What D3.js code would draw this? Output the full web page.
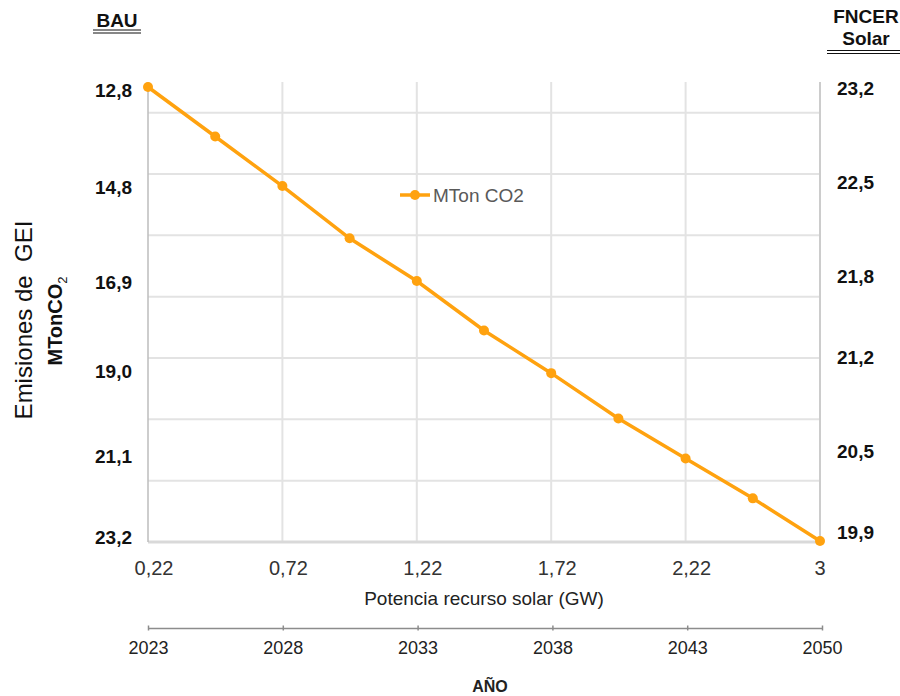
<!DOCTYPE html>
<html>
<head>
<meta charset="utf-8">
<script src="https://d3js.org/d3.v7.min.js"></script>
<style>
  body { margin: 0; background: white; }
  svg { font-family: "Liberation Sans", Arial, sans-serif; }
  .grid line { stroke: #e3e3e3; stroke-width: 2; }
  .yearAxis .domain, .yearAxis line { stroke: #8c8c8c; stroke-width: 1.5; }
  .yearAxis text { font-size: 18px; fill: #222; }
</style>
</head>
<body>
<svg id="chart" width="900" height="696"></svg>
<script>
// emisiones (MTon CO2), una por punto
const emisiones = [23.20, 22.84, 22.48, 22.10, 21.79, 21.43, 21.12, 20.79, 20.50, 20.21, 19.90];
const potenciaTicks = ["0,22", "0,72", "1,22", "1,72", "2,22", "3"];
const years = ["2023", "2028", "2033", "2038", "2043", "2050"];
const bauTicks = [12.8, 14.8, 16.9, 19.0, 21.1, 23.2];
const fncerTicks = [23.2, 22.5, 21.8, 21.2, 20.5, 19.9];

const svg = d3.select("svg#chart");
const plotL = 148, plotR = 820, plotT = 82, plotB = 542;
const orange = "#ffa20f";
const fmt = v => d3.format(".1f")(v).replace(".", ",");

const x = d3.scalePoint().domain(d3.range(emisiones.length)).range([plotL, plotR]);
const y = d3.scaleLinear().domain([19.9, 23.2]).range([541, 87]);
// etiquetas de los ejes laterales (colocadas a mano en el original)
const yBau = d3.scaleSqrt().domain([12.8, 23.2]).range([90, 537]);
const yFncer = d3.scaleLinear().domain([23.2, 19.9]).range([88, 532]);
const gridY = d3.scaleLinear().domain([0, 7.5]).range([plotB, plotT]);

// grid
const grid = svg.append("g").attr("class", "grid");
grid.selectAll("line.h").data(d3.range(1, 8))
  .join("line").attr("class", "h")
  .attr("x1", plotL).attr("x2", plotR)
  .attr("y1", d => gridY(d)).attr("y2", d => gridY(d));
grid.selectAll("line.v").data(d3.range(2, emisiones.length - 1, 2))
  .join("line").attr("class", "v")
  .attr("x1", d => x(d)).attr("x2", d => x(d))
  .attr("y1", plotT).attr("y2", plotB);

// plot frame
svg.append("line").attr("x1", plotL).attr("x2", plotR).attr("y1", plotB).attr("y2", plotB)
   .attr("stroke", "#d9d9d9").attr("stroke-width", 3);
svg.append("line").attr("x1", plotL).attr("x2", plotL).attr("y1", plotT).attr("y2", plotB)
   .attr("stroke", "#bdbdbd").attr("stroke-width", 1.5);
svg.append("line").attr("x1", plotR).attr("x2", plotR).attr("y1", plotT).attr("y2", plotB)
   .attr("stroke", "#cccccc").attr("stroke-width", 2);

// line + markers
svg.append("path").datum(emisiones)
   .attr("fill", "none").attr("stroke", orange).attr("stroke-width", 3.5)
   .attr("d", d3.line().x((d, i) => x(i)).y(d => y(d)));
svg.selectAll("circle.pt").data(emisiones)
   .join("circle").attr("class", "pt")
   .attr("cx", (d, i) => x(i)).attr("cy", d => y(d))
   .attr("r", 5).attr("fill", orange);

// left labels (BAU)
svg.selectAll("text.bau").data(bauTicks)
   .join("text").attr("class", "bau")
   .attr("x", 132).attr("y", d => yBau(d)).attr("dy", "0.35em")
   .attr("text-anchor", "end").attr("font-size", 19).attr("font-weight", "bold").attr("fill", "#111")
   .text(fmt);

// right labels (FNCER Solar)
svg.selectAll("text.fncer").data(fncerTicks)
   .join("text").attr("class", "fncer")
   .attr("x", 837).attr("y", d => yFncer(d)).attr("dy", "0.35em")
   .attr("font-size", 19).attr("font-weight", "bold").attr("fill", "#111")
   .text(fmt);

// headers with double underline
svg.append("text").attr("x", 117).attr("y", 27).attr("text-anchor", "middle")
   .attr("font-size", 19).attr("font-weight", "bold").attr("fill", "#111").text("BAU");
[30, 33].forEach(yy => svg.append("line").attr("x1", 93).attr("x2", 141).attr("y1", yy).attr("y2", yy)
   .attr("stroke", "#111").attr("stroke-width", 1.2));
svg.append("text").attr("x", 866).attr("y", 23).attr("text-anchor", "middle")
   .attr("font-size", 19).attr("font-weight", "bold").attr("fill", "#111").text("FNCER");
svg.append("text").attr("x", 866).attr("y", 45).attr("text-anchor", "middle")
   .attr("font-size", 19).attr("font-weight", "bold").attr("fill", "#111").text("Solar");
[50.5, 53.5].forEach(yy => svg.append("line").attr("x1", 827).attr("x2", 900).attr("y1", yy).attr("y2", yy)
   .attr("stroke", "#111").attr("stroke-width", 1.2));

// y titles
svg.append("text").attr("transform", "translate(32,320) rotate(-90)")
   .attr("text-anchor", "middle").attr("font-size", 24).attr("fill", "#111")
   .style("white-space", "pre")
   .text("Emisiones de  GEI");
const mt = svg.append("text").attr("transform", "translate(62,321) rotate(-90)")
   .attr("text-anchor", "middle").attr("font-size", 20).attr("font-weight", "bold").attr("fill", "#111");
mt.append("tspan").text("MTonCO");
mt.append("tspan").attr("font-size", 13).attr("font-weight", "normal").attr("dy", 5).text("2");

// potencia tick labels
svg.selectAll("text.pot").data(potenciaTicks)
   .join("text").attr("class", "pot")
   .attr("x", (d, i) => x(i * 2) + (i === potenciaTicks.length - 1 ? 0 : 6)).attr("y", 575)
   .attr("text-anchor", "middle").attr("font-size", 20).attr("fill", "#333")
   .text(d => d);
svg.append("text").attr("x", 484).attr("y", 605).attr("text-anchor", "middle")
   .attr("font-size", 19).attr("fill", "#222").text("Potencia recurso solar (GW)");

// year axis
const xYear = d3.scalePoint().domain(years).range([148, 822]);
const yearAxis = svg.append("g").attr("class", "yearAxis")
   .attr("transform", "translate(0,628)")
   .call(d3.axisBottom(xYear).tickSize(3).tickSizeOuter(0).tickPadding(10));
yearAxis.selectAll(".tick line").attr("y1", -2.5).attr("y2", 2.5);
yearAxis.attr("font-family", null).attr("font-size", null);

svg.append("text").attr("x", 490).attr("y", 692).attr("text-anchor", "middle")
   .attr("font-size", 16).attr("font-weight", "bold").attr("fill", "#222").text("AÑO");

// legend
const lg = svg.append("g").attr("transform", "translate(400,195)");
lg.append("line").attr("x1", 0).attr("x2", 30).attr("stroke", orange).attr("stroke-width", 3.5);
lg.append("circle").attr("cx", 15).attr("r", 5).attr("fill", orange);
lg.append("text").attr("x", 33).attr("dy", "0.35em").attr("font-size", 19).attr("fill", "#595959").text("MTon CO2");
</script>
</body>
</html>
